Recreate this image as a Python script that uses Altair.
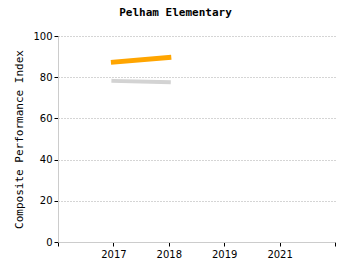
import altair as alt
import pandas as pd

years = ["2017", "2018"]
school = [87.3, 89.6]
state = [78.2, 77.6]
x_domain = ["2016", "2017", "2018", "2019", "2021", "2022"]

df = pd.DataFrame({
    "year": years * 2,
    "value": school + state,
    "series": ["School"] * 2 + ["State"] * 2,
})

chart = alt.Chart(df).mark_line(strokeCap="square").encode(
    x=alt.X("year:O", scale=alt.Scale(type="point", domain=x_domain, padding=0),
            axis=alt.Axis(title=None, labelAngle=0, grid=False,
                          labelExpr="datum.value == '2016' || datum.value == '2022' ? '' : datum.value",
                          domainColor="#cccccc", tickColor="#000000", tickSize=4,
                          labelFont="DejaVu Sans", labelFontSize=10, labelColor="#000000",
                          labelPadding=3)),
    y=alt.Y("value:Q", scale=alt.Scale(domain=[0, 100]),
            axis=alt.Axis(title="Composite Performance Index", values=[0, 20, 40, 60, 80, 100],
                          grid=True, gridColor="#aaaaaa", gridDash=[1, 2],
                          domainColor="#cccccc", tickColor="#000000", tickSize=4,
                          labelFont="DejaVu Sans", labelFontSize=10, labelColor="#000000",
                          labelPadding=2,
                          titleFont="DejaVu Sans Mono", titleFontSize=11, titleFontWeight="normal",
                          titleColor="#000000", titlePadding=8)),
    color=alt.Color("series:N", scale=alt.Scale(domain=["School", "State"], range=["#FFA500", "#D3D3D3"]), legend=None),
    strokeWidth=alt.StrokeWidth("series:N", scale=alt.Scale(domain=["School", "State"], range=[5, 4]), legend=None),
).properties(
    width=277,
    height=206,
    title=alt.TitleParams("Pelham Elementary", font="DejaVu Sans Mono", fontSize=11,
                          fontWeight="bold", color="#000000", offset=13, dx=-21),
    autosize=alt.AutoSizeParams(type="none"),
    padding={"left": 58, "top": 36, "right": 15, "bottom": 33},
).configure_view(stroke=None)

chart.save("out.html", embed_options={"renderer": "svg", "actions": False})
